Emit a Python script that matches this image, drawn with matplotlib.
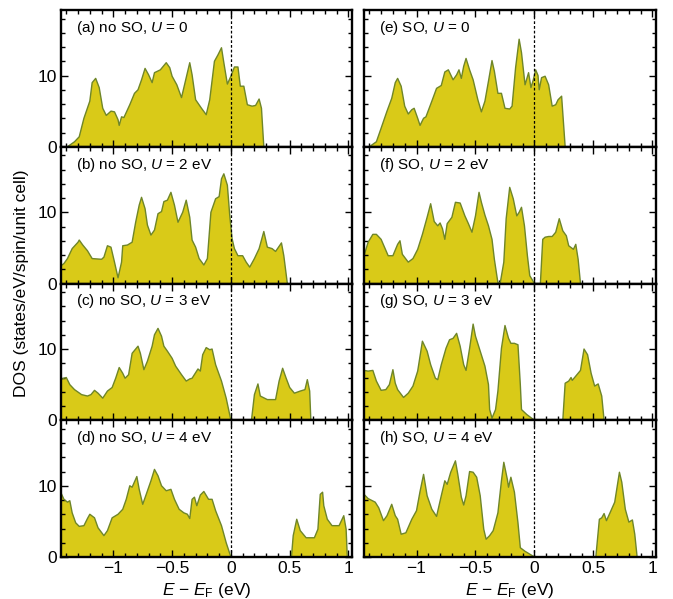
import matplotlib
matplotlib.use("Agg")
import matplotlib.pyplot as plt
from matplotlib.ticker import MultipleLocator, FixedLocator, FixedFormatter

plt.rcParams['font.family'] = ['Liberation Sans', 'DejaVu Sans']
plt.rcParams['mathtext.fontset'] = 'custom'
plt.rcParams['mathtext.rm'] = 'Liberation Sans'
plt.rcParams['mathtext.it'] = 'Liberation Sans:italic'
plt.rcParams['mathtext.bf'] = 'Liberation Sans:bold'

# ---------------- data (E - E_F in eV, DOS in states/eV/spin/unit cell) ----------------
a_E = [-1.39,-1.33,-1.29,-1.25,-1.20,-1.18,-1.15,-1.12,-1.09,-1.06,-1.02,-0.99,-0.96,-0.95,-0.93,-0.91,-0.86,-0.82,-0.79,-0.76,-0.73,-0.70,-0.67,-0.65,-0.60,-0.55,-0.52,-0.50,-0.46,-0.42,-0.40,-0.35,-0.33,-0.30,-0.25,-0.21,-0.18,-0.14,-0.11,-0.08,-0.06,-0.03,0.0,0.03,0.06,0.08,0.11,0.14,0.18,0.21,0.24,0.26,0.28]
a_D = [0,0.7,1.4,4.0,6.4,9.0,9.6,8.3,5.4,4.4,5.0,4.9,3.8,3.0,4.2,4.1,5.9,7.5,8.0,9.4,11.0,10.1,9.0,10.4,10.8,11.8,11.1,9.9,8.7,6.9,8.3,11.8,10.1,6.6,5.4,4.5,6.6,12.0,12.9,13.9,11.8,8.8,9.9,11.2,11.2,8.5,8.5,5.9,5.7,5.8,6.7,5.4,0]

b_E = [-1.445,-1.42,-1.39,-1.35,-1.30,-1.29,-1.26,-1.22,-1.18,-1.10,-1.08,-1.05,-1.02,-0.99,-0.96,-0.93,-0.92,-0.88,-0.84,-0.81,-0.78,-0.76,-0.73,-0.71,-0.68,-0.65,-0.62,-0.59,-0.57,-0.54,-0.51,-0.48,-0.45,-0.41,-0.38,-0.35,-0.33,-0.30,-0.27,-0.23,-0.20,-0.17,-0.13,-0.10,-0.08,-0.06,-0.03,-0.01,0.01,0.03,0.06,0.10,0.13,0.16,0.20,0.24,0.28,0.31,0.35,0.38,0.43,0.45,0.48]
b_D = [2.5,2.8,3.5,4.9,5.8,6.1,5.4,4.6,3.5,3.4,3.7,5.3,5.1,3.0,0.8,3.0,5.3,5.4,5.8,8.6,11.0,12.1,10.5,8.2,6.8,7.5,9.8,10.1,11.5,11.7,12.8,11.0,8.6,10.0,11.7,9.3,6.1,5.1,3.5,2.6,3.5,10.0,11.9,12.2,14.7,15.4,13.8,9.6,6.3,4.9,3.9,3.9,3.0,2.3,3.5,4.9,7.3,5.1,4.9,4.5,5.7,3.9,0]

c_E = [-1.445,-1.42,-1.40,-1.37,-1.33,-1.27,-1.22,-1.19,-1.16,-1.13,-1.09,-1.05,-1.01,-0.98,-0.95,-0.92,-0.90,-0.87,-0.84,-0.79,-0.77,-0.74,-0.71,-0.67,-0.65,-0.62,-0.59,-0.57,-0.54,-0.50,-0.47,-0.42,-0.38,-0.35,-0.33,-0.28,-0.26,-0.24,-0.21,-0.18,-0.16,-0.13,-0.08,-0.04,0.0,0.175,0.20,0.23,0.25,0.31,0.38,0.41,0.44,0.47,0.50,0.54,0.59,0.63,0.65,0.67,0.68]
c_D = [5.7,5.9,6.0,5.0,4.3,3.6,3.4,3.6,4.2,3.8,3.1,4.1,4.6,5.9,7.4,6.6,5.9,6.4,9.4,10.4,9.4,7.1,8.3,10.4,12.0,12.9,11.8,10.4,9.7,8.7,7.6,6.4,5.5,5.8,5.9,7.2,6.9,9.2,10.2,9.9,10.0,7.8,5.5,3.1,0,0,3.6,5.1,3.4,2.9,2.9,5.5,7.3,5.9,4.6,3.8,4.1,4.3,5.7,4.1,0]

d_E = [-1.445,-1.42,-1.39,-1.37,-1.35,-1.32,-1.29,-1.25,-1.22,-1.20,-1.16,-1.13,-1.08,-1.05,-1.01,-0.96,-0.92,-0.89,-0.86,-0.84,-0.80,-0.78,-0.75,-0.72,-0.68,-0.65,-0.62,-0.59,-0.55,-0.51,-0.48,-0.44,-0.40,-0.37,-0.35,-0.33,-0.31,-0.29,-0.26,-0.23,-0.19,-0.16,-0.13,-0.08,-0.04,0.0,0.515,0.53,0.56,0.59,0.64,0.71,0.74,0.76,0.78,0.79,0.82,0.86,0.92,0.96,0.98,0.99]
d_D = [9.0,8.1,7.7,7.9,6.2,4.8,4.3,4.4,5.4,6.0,5.5,4.1,3.0,3.7,5.5,6.0,6.7,8.1,10.0,9.8,11.3,9.5,7.4,8.8,10.7,12.3,11.4,10.0,9.3,9.5,8.1,6.7,6.2,6.0,5.4,8.1,8.4,7.2,8.7,9.2,8.1,8.1,6.5,4.4,2.0,0,0,3.0,5.3,3.7,2.7,2.7,3.9,8.8,9.1,7.2,5.3,4.4,4.4,5.8,3.9,0]

e_E = [-1.40,-1.34,-1.30,-1.25,-1.21,-1.18,-1.16,-1.13,-1.10,-1.07,-1.04,-1.02,-0.99,-0.97,-0.94,-0.92,-0.87,-0.83,-0.79,-0.76,-0.73,-0.69,-0.66,-0.64,-0.62,-0.60,-0.58,-0.55,-0.52,-0.48,-0.45,-0.42,-0.39,-0.36,-0.34,-0.31,-0.28,-0.25,-0.21,-0.19,-0.16,-0.13,-0.11,-0.08,-0.05,-0.03,-0.01,0.01,0.03,0.04,0.06,0.09,0.12,0.15,0.18,0.20,0.23,0.26]
e_D = [0,0.7,2.6,5.0,6.8,9.0,9.6,8.5,5.7,4.6,5.2,5.4,4.0,3.0,4.0,4.2,6.4,8.2,8.6,10.5,10.8,9.4,10.1,10.8,9.6,11.3,12.4,10.8,9.4,6.6,4.9,6.4,9.2,12.1,10.6,7.5,7.5,5.4,5.3,5.7,11.1,15.1,13.2,8.7,10.4,8.3,9.4,10.8,10.0,8.0,9.7,9.9,8.7,5.7,5.9,6.6,7.1,0]

f_E = [-1.445,-1.41,-1.37,-1.34,-1.30,-1.24,-1.20,-1.16,-1.14,-1.12,-1.07,-1.03,-0.99,-0.95,-0.91,-0.88,-0.85,-0.82,-0.80,-0.78,-0.76,-0.74,-0.70,-0.67,-0.63,-0.59,-0.56,-0.53,-0.50,-0.47,-0.45,-0.42,-0.39,-0.36,-0.34,-0.31,-0.29,-0.26,-0.24,-0.21,-0.18,-0.15,-0.13,-0.11,-0.085,-0.06,-0.04,0.0,0.05,0.07,0.09,0.12,0.15,0.18,0.21,0.24,0.27,0.29,0.33,0.35,0.37,0.39]
f_D = [3.9,5.8,6.9,6.9,6.2,3.9,3.9,5.5,6.0,4.1,3.0,3.5,4.8,6.9,9.3,11.2,8.7,8.1,8.5,7.7,6.2,8.4,9.3,11.4,11.3,9.5,8.4,7.2,9.5,12.8,11.4,9.6,8.1,6.2,3.4,0.1,0.1,3.0,9.1,13.5,11.9,9.5,10.0,10.7,8.1,3.9,1.1,0,0,6.2,6.5,6.6,6.6,7.2,9.1,7.4,6.7,5.3,4.8,5.5,3.4,0]

g_E = [-1.445,-1.41,-1.37,-1.34,-1.30,-1.26,-1.23,-1.20,-1.18,-1.16,-1.11,-1.07,-1.03,-0.99,-0.95,-0.91,-0.88,-0.84,-0.82,-0.79,-0.75,-0.72,-0.69,-0.66,-0.63,-0.60,-0.58,-0.55,-0.52,-0.50,-0.46,-0.42,-0.39,-0.38,-0.36,-0.33,-0.31,-0.28,-0.25,-0.22,-0.20,-0.17,-0.14,-0.12,-0.11,-0.065,0.0,0.24,0.26,0.29,0.31,0.32,0.35,0.39,0.42,0.45,0.48,0.51,0.54,0.57,0.59]
g_D = [7.0,6.9,7.0,5.5,4.2,4.3,5.0,7.1,5.2,4.3,3.2,3.8,4.8,6.9,11.1,9.7,7.8,5.9,5.7,7.8,10.1,11.3,11.5,12.2,10.4,7.8,7.0,10.1,13.5,11.8,9.7,7.6,5.0,1.5,0.3,1.5,4.1,10.1,13.3,11.5,10.8,10.8,10.6,5.0,1.5,0.8,0,0,5.2,5.5,6.0,5.6,6.2,7.0,10.0,9.2,6.6,4.8,5.1,3.4,0]

h_E = [-1.445,-1.41,-1.35,-1.32,-1.28,-1.25,-1.21,-1.18,-1.16,-1.13,-1.09,-1.04,-1.00,-0.97,-0.94,-0.91,-0.87,-0.83,-0.79,-0.76,-0.74,-0.71,-0.67,-0.65,-0.62,-0.60,-0.58,-0.55,-0.52,-0.49,-0.46,-0.43,-0.41,-0.38,-0.35,-0.31,-0.28,-0.26,-0.23,-0.22,-0.20,-0.17,-0.14,-0.12,-0.08,0.0,0.52,0.55,0.57,0.59,0.61,0.64,0.68,0.72,0.74,0.77,0.80,0.83,0.85,0.87]
h_D = [8.8,8.2,7.7,6.9,5.1,5.8,7.4,5.8,5.3,3.2,3.4,5.3,6.5,9.2,11.6,8.6,6.7,5.7,8.6,10.7,10.2,11.9,13.5,11.6,8.4,7.3,8.6,12.0,11.9,11.2,8.6,3.9,2.5,3.0,3.7,6.2,10.7,13.3,10.9,9.8,11.2,9.1,4.8,1.3,0.8,0,0,5.3,5.5,6.1,5.1,6.2,7.7,11.9,10.5,6.7,4.9,5.2,3.2,0]

labels = ["(a) no SO, $U$ = 0", "(b) no SO, $U$ = 2 eV", "(c) no SO, $U$ = 3 eV", "(d) no SO, $U$ = 4 eV",
          "(e) SO, $U$ = 0", "(f) SO, $U$ = 2 eV", "(g) SO, $U$ = 3 eV", "(h) SO, $U$ = 4 eV"]
x_ticks = [-1, -0.5, 0, 0.5, 1]
x_ticklabels = ["\u22121", "\u22120.5", "0", "0.5", "1"]
y_ticks = [0, 10]
y_ticklabels = ["0", "10"]

panels = [(a_E, a_D), (b_E, b_D), (c_E, c_D), (d_E, d_D),
          (e_E, e_D), (f_E, f_D), (g_E, g_D), (h_E, h_D)]

# ---------------- layout ----------------
W, H = 673, 599
fig = plt.figure(figsize=(W / 100, H / 100), dpi=100)
col_x = [(61, 352), (364, 656)]
top, bottom = 10, 557
rh = (bottom - top) / 4.0

FILL = '#D9CA18'
EDGE = '#6F8628'

for col in range(2):
    for row in range(4):
        i = col * 4 + row
        x0, x1 = col_x[col]
        y1 = top + row * rh
        ax = fig.add_axes([x0 / W, 1 - (y1 + rh) / H, (x1 - x0) / W, rh / H])
        E, D = panels[i]
        ax.fill_between(E, 0, D, facecolor=FILL, edgecolor='none', zorder=1)
        ax.plot(E, D, color=EDGE, lw=1.0, zorder=2, solid_joinstyle='round')
        ax.axvline(0, color='black', lw=0.9, ls=(0, (2.2, 1.6)), zorder=3)
        ax.set_xlim(-1.445, 1.03)
        ax.set_ylim(0, 19.2)
        ax.xaxis.set_major_locator(FixedLocator(x_ticks))
        ax.xaxis.set_minor_locator(MultipleLocator(0.1))
        ax.yaxis.set_major_locator(FixedLocator(y_ticks))
        ax.yaxis.set_minor_locator(MultipleLocator(2))
        ax.tick_params(which='both', direction='in', top=True, right=True, width=1.0)
        ax.tick_params(which='major', length=5)
        ax.tick_params(which='minor', length=3)
        ax.tick_params(labelsize=12.5, pad=3)
        if row == 3:
            ax.xaxis.set_major_formatter(FixedFormatter(x_ticklabels))
        else:
            ax.set_xticklabels([])
        if col == 0:
            ax.yaxis.set_major_formatter(FixedFormatter(y_ticklabels))
        else:
            ax.set_yticklabels([])
        for s in ax.spines.values():
            s.set_linewidth(1.7)
        ax.text(0.05, 0.935, labels[i], transform=ax.transAxes, ha='left', va='top', fontsize=11)

for col in range(2):
    x0, x1 = col_x[col]
    fig.text((x0 + x1) / 2 / W, 1 - 590 / H, "$E$ \u2212 $E_\\mathrm{F}$ (eV)",
             ha='center', va='center', fontsize=12.5)

fig.text(22 / W, 1 - 283 / H, "DOS (states/eV/spin/unit cell)", rotation=90,
         ha='center', va='center', fontsize=12.5)

fig.savefig("out.png", dpi=100)
